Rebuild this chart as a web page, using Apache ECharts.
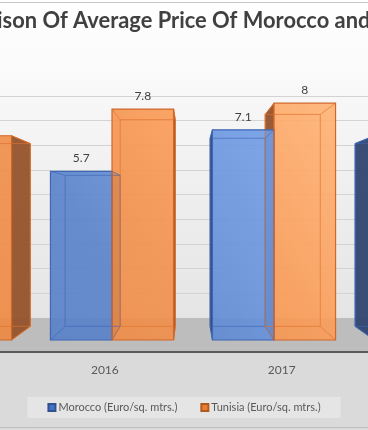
<!DOCTYPE html>
<html><head><meta charset="utf-8">
<script src="https://cdn.jsdelivr.net/npm/echarts/dist/echarts.min.js"></script>
<style>html,body{margin:0;padding:0;overflow:hidden;background:#fff;width:368px;height:430px;position:relative}
#c{position:absolute;left:-200px;top:0;width:768px;height:430px}</style>
</head><body><div id="c"></div>
<script>
// ---------------- data ----------------
const titleText = 'Comparison Of Average Price Of Morocco and Tunisia';
const categories = ['2015', '2016', '2017', '2018'];
const morocco = [null, 5.7, 7.1, 6.9];   // Euro/sq. mtrs. (2015 bar is outside the visible crop)
const tunisia = [6.9, 7.8, 8, null];     // Euro/sq. mtrs. (2018 bar is outside the visible crop)
const seriesNames = ['Morocco (Euro/sq. mtrs.)', 'Tunisia (Euro/sq. mtrs.)'];
const yMin = 0, yMax = 9, yInterval = 1;

// ---------------- layout / style ----------------
const SX = 200;             // the chart canvas is wider than the window; visible part starts at SX
const VP = [SX + 190, 210]; // perspective vanishing point (px)
const DEPTH = 0.895;        // back face scale toward VP
const FONT = 'Lato';

const chart = echarts.init(document.getElementById('c'));

// title fitted so the visible crop matches
const ctx = document.createElement('canvas').getContext('2d');
ctx.font = 'bold 20px ' + FONT;
const cut = titleText.indexOf('ison');
const visEnd = titleText.indexOf(' Tunisia');
const wVis = ctx.measureText(titleText.slice(cut, visEnd)).width;
const titleSize = 20 * 366 / wVis * 1.02;
ctx.font = 'bold ' + titleSize + 'px ' + FONT;
const titleX = SX - 3 - ctx.measureText(titleText.slice(0, cut)).width;

const palettes = [
  { legend: '#4472c4', legendBorder: '#2f528f', side: '#2f4570', edge: '#3f67b3', back: 'rgba(60,100,180,0.6)',
    stops: [[0,'#5580c8'],[0.3,'#5881ca'],[0.5,'#638fd8'],[0.7,'#6d99e2'],[1,'#78a4ec']] },
  { legend: '#ed7d31', legendBorder: '#ae5a21', side: '#93532c', edge: '#d2672a', back: 'rgba(222,112,44,0.65)',
    stops: [[0,'#ee8840'],[0.4,'#f1904b'],[0.6,'#fa9a55'],[0.9,'#ffb070'],[1,'#ffb576']] }
];

function makeSeries(name, values, sIdx) {
  const pal = palettes[sIdx];
  const frontFill = new echarts.graphic.LinearGradient(SX, 340, SX + 368, 100,
    pal.stops.map(s => ({ offset: s[0], color: s[1] })), true);
  return {
    type: 'custom', name: name, xAxisIndex: 0, yAxisIndex: 0,
    itemStyle: { color: pal.legend, borderColor: pal.legendBorder, borderWidth: 1 },
    encode: { x: 0, y: 1 },
    data: values.map((v, i) => [i, v == null ? '-' : v]),
    renderItem: function (params, api) {
      const idx = api.value(0), val = api.value(1);
      if (val == null || isNaN(val)) return { type: 'group', children: [] };
      const top = api.coord([idx, val]);
      const base = api.coord([idx, 0]);
      const band = api.size([1, 0])[0];
      const w = band * 0.38;
      const xl = top[0] + (sIdx === 0 ? -w : 0), xr = xl + w;
      const yt = top[1], yb = base[1];
      const P = (x, y) => [VP[0] + (x - VP[0]) * DEPTH, VP[1] + (y - VP[1]) * DEPTH];
      const FTL = [xl, yt], FTR = [xr, yt], FBL = [xl, yb], FBR = [xr, yb];
      const BTL = P(xl, yt), BTR = P(xr, yt), BBL = P(xl, yb), BBR = P(xr, yb);
      const ch = [];
      let sidePts = null;
      if (xr < VP[0]) sidePts = [FTR, BTR, BBR, FBR];
      else if (xl > VP[0]) sidePts = [FTL, BTL, BBL, FBL];
      if (sidePts) {
        ch.push({ type: 'polygon', z2: 0, shape: { points: sidePts },
          style: { fill: pal.side, opacity: 0.95, stroke: pal.edge, lineWidth: 1 } });
      }
      ch.push({ type: 'rect', z2: 5, shape: { x: xl, y: yt, width: w, height: yb - yt },
        style: { fill: frontFill, opacity: 0.9 } });
      ch.push({ type: 'polygon', z2: 6, shape: { points: [BTL, BTR, BBR, BBL] },
        style: { fill: null, stroke: pal.back, lineWidth: 1 } });
      [[FTL, BTL], [FTR, BTR], [FBL, BBL], [FBR, BBR]].forEach(s => ch.push({
        type: 'line', z2: 6, shape: { x1: s[0][0], y1: s[0][1], x2: s[1][0], y2: s[1][1] },
        style: { stroke: pal.back, lineWidth: 1 } }));
      ch.push({ type: 'rect', z2: 7, shape: { x: xl, y: yt, width: w, height: yb - yt },
        style: { fill: null, stroke: pal.edge, lineWidth: 1.2 } });
      ch.push({ type: 'text', z2: 10, style: { text: String(val), x: (xl + xr) / 2, y: yt - 13,
        align: 'center', verticalAlign: 'middle', fill: '#404040', font: '12px ' + FONT } });
      return { type: 'group', children: ch };
    }
  };
}

const option = {
  animation: false,
  graphic: [
    { type: 'rect', z: -10, silent: true, shape: { x: 0, y: 0, width: 768, height: 352 },
      style: { fill: new echarts.graphic.LinearGradient(0, 0, 0, 1, [
        { offset: 0, color: '#ffffff' }, { offset: 0.2, color: '#fafafa' },
        { offset: 0.5, color: '#f0f0f0' }, { offset: 1, color: '#e2e2e2' }]) } },
    { type: 'rect', z: -10, silent: true, shape: { x: 0, y: 352, width: 768, height: 78 },
      style: { fill: '#dadada' } },
    { type: 'rect', z: 1, silent: true, shape: { x: 0, y: 318, width: 768, height: 33 },
      style: { fill: '#bdbdbd' } },
    { type: 'line', z: 1, silent: true, shape: { x1: 0, y1: 2.5, x2: 768, y2: 2.5 },
      style: { stroke: '#c6c6c6', lineWidth: 1 } },
    { type: 'line', z: 1, silent: true, shape: { x1: 0, y1: 427.5, x2: 768, y2: 427.5 },
      style: { stroke: '#bdbdbd', lineWidth: 1 } },
    { type: 'text', z: 5, silent: true, style: { text: titleText, x: titleX, y: 21,
      align: 'left', verticalAlign: 'middle', fill: '#404040',
      font: 'bold ' + titleSize.toFixed(2) + 'px ' + FONT } }
  ],
  legend: {
    data: seriesNames, left: 'center', top: 397, icon: 'rect', itemWidth: 7, itemHeight: 7,
    itemGap: 23, padding: [5, 20], backgroundColor: '#e5e5e5',
    textStyle: { color: '#595959', fontSize: 11, fontFamily: FONT, padding: [0, 0, 0, -2] }
  },
  grid: [
    { left: SX - 131, width: 648, top: 73.6, height: 266.4 },   // front plane of bars
    { left: 0, right: 0, top: 96, height: 222 },                // back wall
    { left: SX - 160.5, width: 707.6, top: 300, height: 52 }    // floor front edge
  ],
  xAxis: [
    { gridIndex: 0, type: 'category', data: categories, show: false },
    { gridIndex: 1, type: 'category', data: categories, show: false },
    { gridIndex: 2, type: 'category', data: categories, position: 'bottom',
      axisLine: { lineStyle: { color: '#5a5a5a', width: 2 } }, axisTick: { show: false },
      axisLabel: { color: '#595959', fontSize: 12, fontFamily: FONT, margin: 12 } }
  ],
  yAxis: [
    { gridIndex: 0, type: 'value', min: yMin, max: yMax, interval: yInterval, show: false },
    { gridIndex: 1, type: 'value', min: yMin, max: yMax, interval: yInterval,
      axisLine: { show: false }, axisTick: { show: false }, axisLabel: { show: false },
      splitLine: { lineStyle: { color: '#d3d3d3', width: 1 } } },
    { gridIndex: 2, type: 'value', show: false }
  ],
  series: [makeSeries(seriesNames[0], morocco, 0), makeSeries(seriesNames[1], tunisia, 1)]
};
chart.setOption(option);
</script>
</body></html>
